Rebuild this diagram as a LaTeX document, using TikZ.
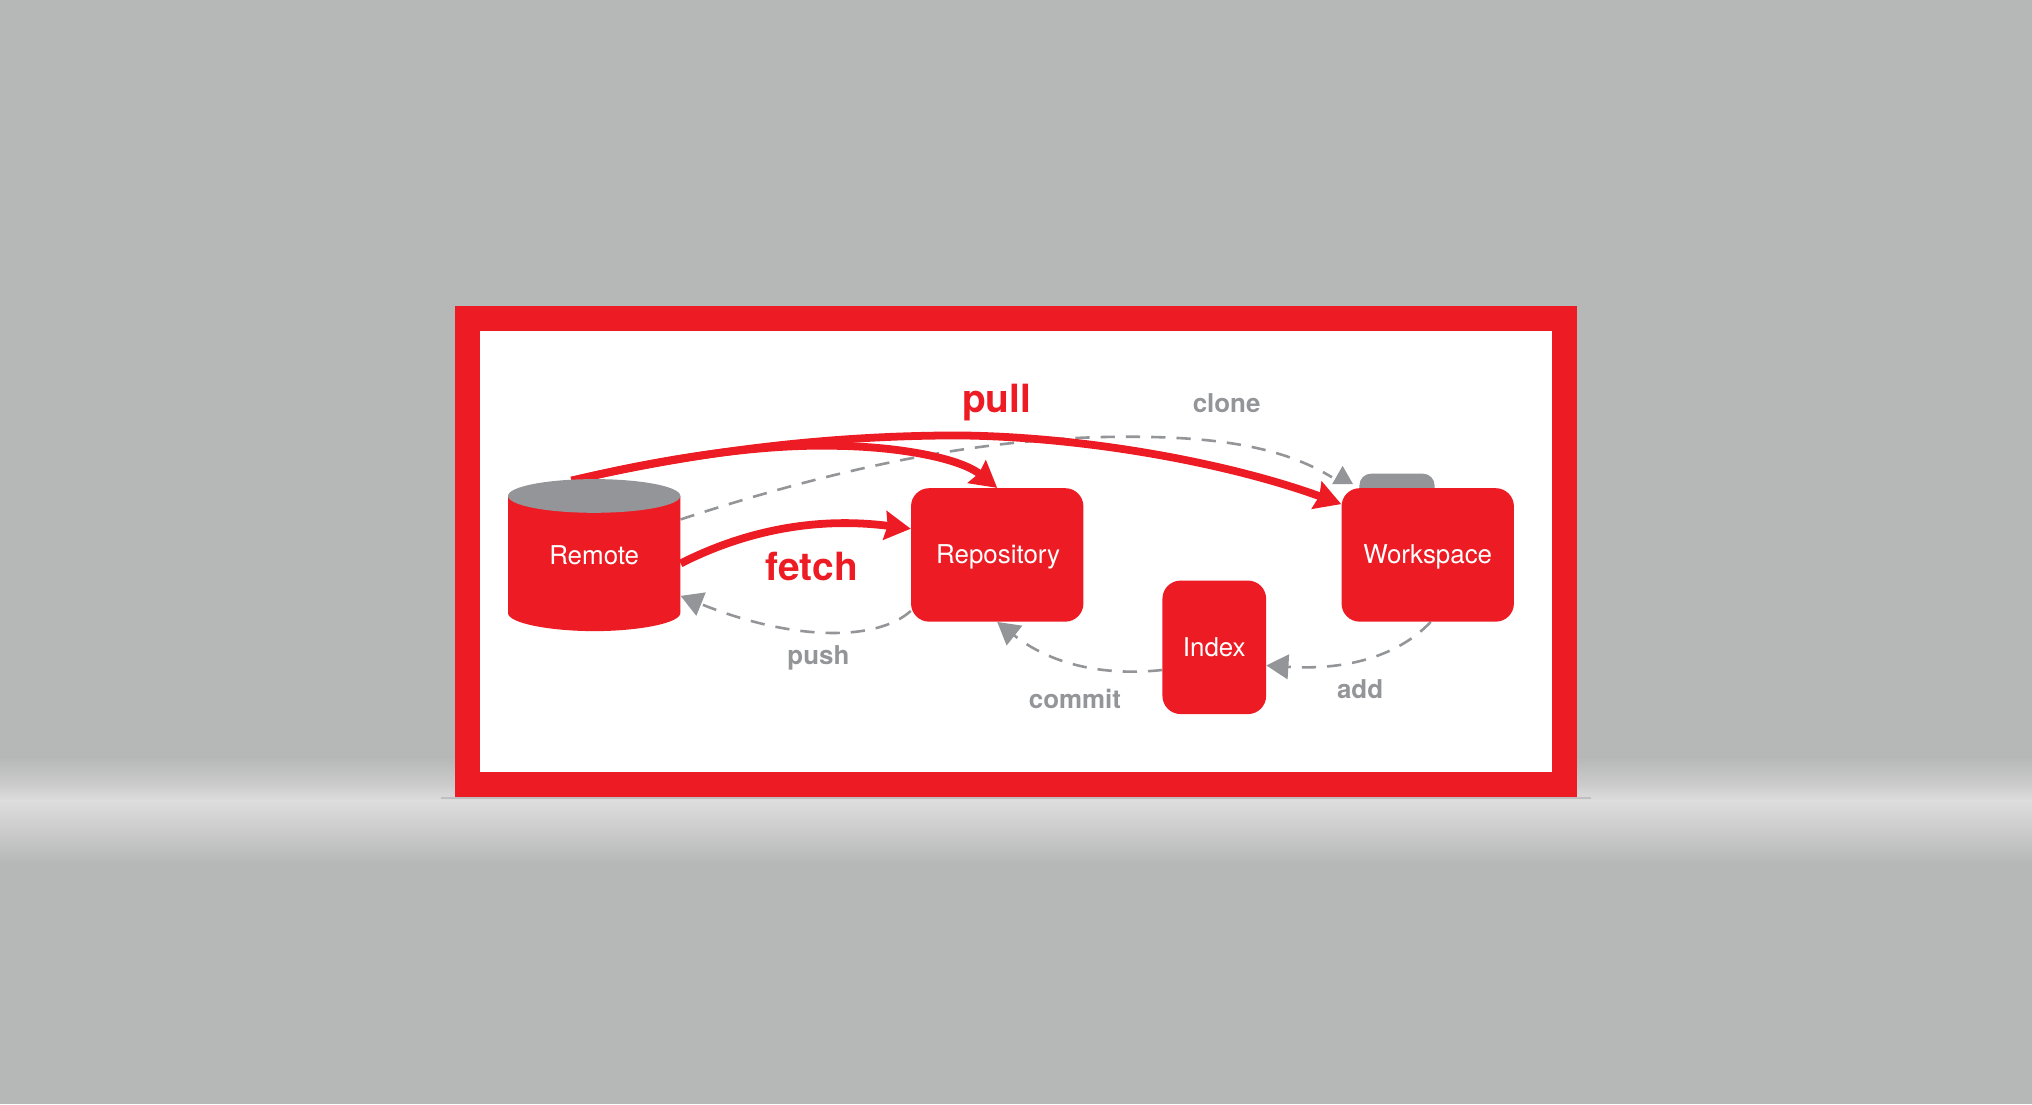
\documentclass[tikz,border=0pt]{standalone}
\usepackage{fontspec}
\setmainfont{TeX Gyre Heros}
\usetikzlibrary{arrows.meta,backgrounds,calc}
\definecolor{brandred}{HTML}{ED1C24}
\definecolor{midgray}{HTML}{939598}
\definecolor{backgray}{HTML}{B6B8B7}
\definecolor{bandlight}{HTML}{DCDDDC}
\definecolor{bandmid}{HTML}{C9CAC9}
\tikzset{
  boxnode/.style={rectangle,rounded corners=14pt,fill=brandred,text=white,inner sep=0pt,
    font=\fontsize{20}{24}\selectfont,text height=18.4pt,text depth=5pt},
  redlabel/.style={anchor=base,text=brandred,inner sep=0pt,font=\fontsize{30}{36}\selectfont\bfseries},
  graylabel/.style={anchor=base,text=midgray,inner sep=0pt,font=\fontsize{20}{24}\selectfont\bfseries},
  redarrow/.style={draw=brandred,line width=6pt,-{Stealth[length=20pt,width=22pt,inset=2pt]}},
  grayarrow/.style={draw=midgray,line width=2pt,dash pattern=on 11pt off 8.5pt,-{Triangle[length=17pt,width=19pt]}},
  grayline/.style={draw=midgray,line width=2pt,dash pattern=on 11pt off 8.5pt}
}
\begin{document}
\begin{tikzpicture}[x=1pt,y=-1pt]
\useasboundingbox (0,0) rectangle (1568,852);
% diagram shapes
\fill[brandred] (392,382.7) -- (392,473) .. controls (392,481) and (425,487) .. (458.5,487)
  .. controls (492,487) and (525,481) .. (525,473) -- (525,382.7) -- cycle;
\fill[midgray] (458.5,382.7) ellipse [x radius=66.5,y radius=13];
\node[boxnode,fill=none,minimum width=133pt,minimum height=117pt] (remote) at (458.5,428.8) {Remote};
\node[boxnode,minimum width=133pt,minimum height=103pt] (repo) at (769.5,428.2) {\hspace{1.5pt}Repository};
\node[boxnode,fill=midgray,rounded corners=9pt,minimum width=58pt,minimum height=22pt,text height=0pt,text depth=0pt] (wstab) at (1078,376.5) {};
\node[boxnode,minimum width=133pt,minimum height=103pt] (work) at (1101.7,428.2) {Workspace};
\node[boxnode,minimum width=80pt,minimum height=103pt] (index) at (937,499.5) {Index};
% labels
\node[redlabel] (lpull) at (769,318) {pull};
\node[redlabel] (lfetch) at (626.5,448) {fetch};
\node[graylabel] (lclone) at (946.5,318) {clone};
\node[graylabel] (lpush) at (631.5,512.8) {push};
\node[graylabel] (lcommit) at (829.5,547) {commit};
\node[graylabel] (ladd) at (1049.5,539) {add};
% anchors for the connectors
\coordinate (pullstart) at ($(remote.north)+(-17.5,0.8)$);
\coordinate (pullend) at ($(work.north west)+(0,12.5)$);
\coordinate (fetchstart) at ($(remote.east)+(0,6)$);
\coordinate (fetchend) at ($(repo.north west)+(0,31.5)$);
\coordinate (clonestart) at ($(remote.east)+(0,-28)$);
\coordinate (cloneend) at ($(wstab.north west)+(-21,3)$);
\coordinate (pushstart) at ($(repo.south west)+(0,-8.5)$);
\coordinate (pushend) at ($(remote.east)+(0,31)$);
\coordinate (commitstart) at ($(index.west)+(0,17.5)$);
\coordinate (addstart) at ($(work.south)+(2.3,0)$);
\coordinate (addend) at ($(index.east)+(0,14)$);
\begin{pgfonlayer}{background}
\fill[backgray] (0,0) rectangle (1568,852);
\path[top color=backgray,bottom color=bandmid] (0,584) rectangle (1568,604);
\path[top color=bandmid,bottom color=bandlight] (0,604) rectangle (1568,618);
\path[top color=bandlight,bottom color=bandmid] (0,618) rectangle (1568,643);
\path[top color=bandmid,bottom color=backgray] (0,643) rectangle (1568,666);
\draw[color=black!25,line width=1.5pt] (340,616) -- (1228,616);
\fill[brandred] (351,236) rectangle (1217,615);
\fill[white] (370.5,255.5) rectangle (1197.5,595.5);
% dashed connectors
\draw[grayline] (clonestart) .. controls (650,360) and (760,337) .. (870,337)
  .. controls (940,337) and (990,345) .. (cloneend);
\fill[midgray] (1036,359.5) -- (1028,373.5) -- (1044,373.5) -- cycle;
\draw[grayarrow] (pushstart) .. controls (678,494) and (615,496) .. (pushend);
\draw[grayarrow] (commitstart) .. controls (850,522) and (810,512) .. (repo.south);
\draw[grayarrow] (addstart) .. controls (1085,500) and (1050,518) .. (addend);
% red connectors
\draw[redarrow] (pullstart) .. controls (540,348) and (640,336) .. (740,336)
  .. controls (840,337) and (950,358) .. (pullend);
\draw[redarrow] (pullstart) .. controls (520,352) and (590,343) .. (640,344)
  .. controls (690,344) and (740,353) .. (repo.north);
\draw[redarrow] (fetchstart) .. controls (570,412) and (625,398) .. (fetchend);
\end{pgfonlayer}
\end{tikzpicture}
\end{document}
